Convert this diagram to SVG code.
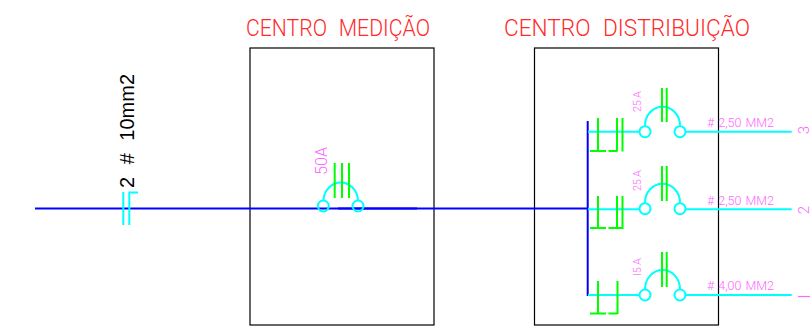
<svg xmlns="http://www.w3.org/2000/svg" width="811" height="327" viewBox="0 0 811 327">
<style>
.box{fill:none;stroke:#000;stroke-width:1.2}
.blue{fill:none;stroke:#0000ff;stroke-width:2}
.cy{fill:none;stroke:#00ffff;stroke-width:2}
.gr{fill:none;stroke:#00ff00;stroke-width:2}
.title{font-family:Roboto,"Liberation Sans",sans-serif;font-size:23px;fill:#ff2a2a;font-weight:300;word-spacing:7px}
.pk{font-family:Roboto,"Liberation Sans",sans-serif;fill:#ff66ff;font-weight:300}
.lab{font-size:13px;word-spacing:1px}
.small{font-size:11px}
.num{font-size:15px;text-anchor:middle}
</style>
<defs>
<g id="breaker">
<circle class="cy" cx="645" cy="0" r="5.5"/>
<circle class="cy" cx="680" cy="0" r="5.5"/>
<path class="cy" d="M645 -6A17.5 19 0 0 1 680 -6"/>
</g>
</defs>
<g id="centro-medicao">
<rect class="box" x="250" y="48" width="184" height="277"/>
<text class="title" x="246" y="36" textLength="184" lengthAdjust="spacingAndGlyphs">CENTRO MEDIÇÃO</text>
</g>
<g id="centro-distribuicao">
<rect class="box" x="534.5" y="48" width="184" height="277"/>
<text class="title" x="504" y="36" textLength="246" lengthAdjust="spacingAndGlyphs">CENTRO DISTRIBUIÇÃO</text>
</g>
<g id="connectors">
<path class="blue" d="M35 208.5H587.5"/>
<path class="blue" d="M338 208.5H417" stroke-width="2.5"/>
<path class="blue" d="M587.7 121V296"/>
<path class="cy" d="M588 131.7H639.5M685.5 131.7H791.7"/>
<path class="cy" d="M588 209.3H639.5M685.5 209.3H791.7"/>
<path class="cy" d="M588 295H639.5M685.5 295H791.7"/>
</g>
<g id="cabo-entrada">
<path class="cy" d="M123.3 192V225M129.3 225V192.5H138"/>
<text x="134" y="188" transform="rotate(-90 134 188)" font-family="'Liberation Sans',sans-serif" font-size="20" fill="#000" word-spacing="7">2 # 10mm2</text>
</g>
<g id="disjuntor-50a">
<circle class="cy" cx="323.3" cy="206" r="5.5"/>
<circle class="cy" cx="358" cy="206" r="5.5"/>
<path class="cy" d="M323.5 200A17.3 19 0 0 1 358 200"/>
<path class="gr" d="M334.7 163V198M342 163V198M349 163V198"/>
<text class="pk" x="326.5" y="175" transform="rotate(-90 326.5 175)" font-size="16" textLength="28" lengthAdjust="spacingAndGlyphs">50A</text>
</g>
<g id="circuito-3">
<use href="#breaker" y="131.7"/>
<path class="gr" d="M598 118V151M590 151H606M608.5 151H617M617 118V151.5M622.5 118V151.5M662 88V122M666.7 88V122"/>
<text class="pk small" x="641" y="112" transform="rotate(-90 641 112)" textLength="21">25 A</text>
<text class="pk lab" x="707" y="127" textLength="67" lengthAdjust="spacingAndGlyphs"># 2,50 MM2</text>
<text class="pk num" x="808.5" y="130" transform="rotate(-90 808.5 130)">3</text>
</g>
<g id="circuito-2">
<use href="#breaker" y="208.7"/>
<path class="gr" d="M598 196V228M590 228H606M608.5 228H623M617 196V229M622.5 196V229M662 166V201M666.7 166V201"/>
<text class="pk small" x="641" y="191" transform="rotate(-90 641 191)" textLength="21">25 A</text>
<text class="pk lab" x="707" y="204.5" textLength="67" lengthAdjust="spacingAndGlyphs"># 2,50 MM2</text>
<text class="pk num" x="808.5" y="210" transform="rotate(-90 808.5 210)">2</text>
</g>
<g id="circuito-1">
<use href="#breaker" y="295"/>
<path class="gr" d="M598 281V314M590 313.5H606M608.5 313.5H617.5M617.5 281V314M662 252V287M666.7 252V287"/>
<text class="pk small" x="641" y="276" transform="rotate(-90 641 276)" textLength="18">I5 A</text>
<text class="pk lab" x="707" y="290" textLength="67" lengthAdjust="spacingAndGlyphs"># 4,00 MM2</text>
<path d="M798 296.5H810" stroke="#ff66ff" stroke-width="1.2" fill="none"/>
</g>
</svg>
